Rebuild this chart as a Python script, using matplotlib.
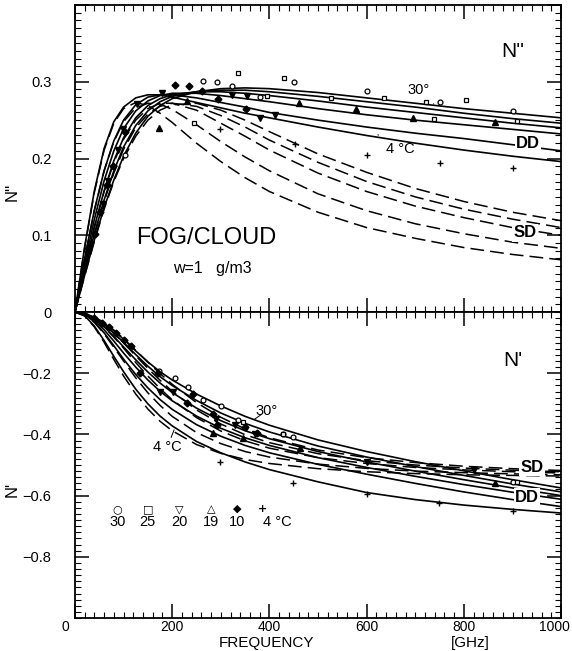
import matplotlib
matplotlib.use('Agg')
import matplotlib.pyplot as plt
import matplotlib.transforms as mtransforms
from matplotlib.ticker import MultipleLocator, FixedLocator, FuncFormatter

plt.rcParams['font.family'] = ['Liberation Sans', 'DejaVu Sans']

freq = [0, 20, 40, 60, 80, 100, 125, 150, 175, 200, 250, 300, 350, 400, 500, 600, 700, 800, 900, 1000]

# N'' double Debye (solid), temps 30, 25, 20, 15, 10, 4 C
dd_im_30 = [0, 0.048, 0.094, 0.136, 0.172, 0.203, 0.233, 0.255, 0.269, 0.278, 0.287, 0.291, 0.292, 0.291, 0.286, 0.279, 0.272, 0.265, 0.259, 0.253]
dd_im_25 = [0, 0.052, 0.102, 0.146, 0.184, 0.215, 0.243, 0.262, 0.274, 0.281, 0.287, 0.289, 0.289, 0.287, 0.281, 0.274, 0.267, 0.259, 0.252, 0.246]
dd_im_20 = [0, 0.057, 0.111, 0.158, 0.197, 0.227, 0.253, 0.269, 0.278, 0.283, 0.287, 0.287, 0.285, 0.282, 0.275, 0.267, 0.260, 0.253, 0.246, 0.240]
dd_im_15 = [0, 0.063, 0.121, 0.171, 0.210, 0.239, 0.262, 0.275, 0.282, 0.285, 0.285, 0.282, 0.278, 0.274, 0.265, 0.257, 0.250, 0.244, 0.238, 0.232]
dd_im_10 = [0, 0.070, 0.133, 0.184, 0.223, 0.250, 0.270, 0.280, 0.283, 0.283, 0.279, 0.273, 0.267, 0.260, 0.250, 0.241, 0.233, 0.226, 0.218, 0.210]
dd_im_4 = [0, 0.085, 0.158, 0.213, 0.248, 0.267, 0.279, 0.283, 0.283, 0.280, 0.273, 0.266, 0.259, 0.253, 0.241, 0.230, 0.220, 0.211, 0.203, 0.196]

# N'' single Debye (dashed), temps 30, 25, 20, 10, 4 C
sd_im_30 = [0, 0.047, 0.092, 0.134, 0.170, 0.200, 0.229, 0.250, 0.263, 0.270, 0.272, 0.263, 0.250, 0.235, 0.206, 0.182, 0.161, 0.144, 0.130, 0.119]
sd_im_25 = [0, 0.051, 0.100, 0.144, 0.181, 0.212, 0.240, 0.258, 0.268, 0.272, 0.268, 0.256, 0.241, 0.224, 0.195, 0.170, 0.150, 0.134, 0.121, 0.110]
sd_im_20 = [0, 0.057, 0.110, 0.157, 0.195, 0.225, 0.250, 0.265, 0.272, 0.272, 0.263, 0.246, 0.229, 0.211, 0.181, 0.157, 0.138, 0.123, 0.110, 0.100]
sd_im_10 = [0, 0.069, 0.132, 0.184, 0.222, 0.248, 0.266, 0.272, 0.271, 0.264, 0.244, 0.222, 0.202, 0.184, 0.154, 0.132, 0.115, 0.102, 0.091, 0.083]
sd_im_4 = [0, 0.084, 0.156, 0.211, 0.246, 0.265, 0.273, 0.269, 0.259, 0.247, 0.220, 0.196, 0.175, 0.157, 0.130, 0.110, 0.096, 0.084, 0.075, 0.068]

# N' double Debye (solid)
dd_re_30 = [0, -0.004, -0.017, -0.036, -0.061, -0.089, -0.127, -0.163, -0.195, -0.222, -0.268, -0.307, -0.341, -0.370, -0.418, -0.456, -0.489, -0.519, -0.548, -0.575]
dd_re_25 = [0, -0.005, -0.019, -0.041, -0.069, -0.099, -0.139, -0.177, -0.211, -0.240, -0.289, -0.330, -0.364, -0.392, -0.438, -0.474, -0.505, -0.534, -0.562, -0.588]
dd_re_20 = [0, -0.006, -0.022, -0.048, -0.080, -0.114, -0.156, -0.196, -0.232, -0.263, -0.314, -0.355, -0.388, -0.414, -0.456, -0.490, -0.520, -0.548, -0.575, -0.600]
dd_re_15 = [0, -0.007, -0.027, -0.058, -0.095, -0.134, -0.180, -0.222, -0.259, -0.290, -0.340, -0.380, -0.411, -0.436, -0.476, -0.508, -0.537, -0.564, -0.589, -0.612]
dd_re_10 = [0, -0.008, -0.032, -0.068, -0.110, -0.154, -0.204, -0.248, -0.286, -0.318, -0.368, -0.406, -0.436, -0.460, -0.498, -0.530, -0.560, -0.588, -0.613, -0.636]
dd_re_4 = [0, -0.012, -0.046, -0.093, -0.145, -0.195, -0.252, -0.300, -0.340, -0.372, -0.423, -0.460, -0.490, -0.515, -0.555, -0.590, -0.613, -0.631, -0.645, -0.657]

# N' single Debye (dashed)
sd_re_30 = [0, -0.004, -0.016, -0.035, -0.059, -0.087, -0.125, -0.164, -0.201, -0.236, -0.296, -0.344, -0.382, -0.411, -0.451, -0.476, -0.492, -0.504, -0.512, -0.518]
sd_re_25 = [0, -0.005, -0.019, -0.041, -0.069, -0.101, -0.143, -0.184, -0.223, -0.259, -0.320, -0.366, -0.401, -0.427, -0.463, -0.486, -0.500, -0.510, -0.517, -0.522]
sd_re_20 = [0, -0.006, -0.023, -0.049, -0.082, -0.118, -0.165, -0.209, -0.250, -0.287, -0.345, -0.389, -0.421, -0.445, -0.476, -0.495, -0.508, -0.516, -0.522, -0.526]
sd_re_10 = [0, -0.009, -0.034, -0.071, -0.115, -0.160, -0.215, -0.264, -0.305, -0.341, -0.394, -0.430, -0.456, -0.474, -0.497, -0.511, -0.520, -0.525, -0.529, -0.532]
sd_re_4 = [0, -0.013, -0.049, -0.099, -0.155, -0.209, -0.268, -0.317, -0.357, -0.388, -0.433, -0.462, -0.482, -0.495, -0.512, -0.522, -0.528, -0.532, -0.534, -0.536]

dd_im = [dd_im_30, dd_im_25, dd_im_20, dd_im_15, dd_im_10, dd_im_4]
sd_im = [sd_im_30, sd_im_25, sd_im_20, sd_im_10, sd_im_4]
dd_re = [dd_re_30, dd_re_25, dd_re_20, dd_re_15, dd_re_10, dd_re_4]
sd_re = [sd_re_30, sd_re_25, sd_re_20, sd_re_10, sd_re_4]

# measured points (freq, N'') per temperature
pts_im_30_f = [103, 264, 292, 323, 381, 451, 601, 751, 900]
pts_im_30_v = [0.204, 0.301, 0.300, 0.295, 0.280, 0.300, 0.288, 0.274, 0.262]
pts_im_25_f = [245, 336, 395, 430, 527, 636, 722, 739, 805, 910]
pts_im_25_v = [0.246, 0.311, 0.281, 0.305, 0.279, 0.279, 0.274, 0.251, 0.276, 0.249]
pts_im_20_f = [58, 68, 89, 99, 127, 179, 323, 353, 381, 412]
pts_im_20_v = [0.141, 0.171, 0.211, 0.239, 0.271, 0.286, 0.283, 0.281, 0.253, 0.257]
pts_im_19_f = [172, 230, 461, 578, 696, 864]
pts_im_19_v = [0.240, 0.275, 0.272, 0.265, 0.253, 0.247]
pts_im_10_f = [27, 41, 51, 66, 79, 103, 206, 235, 261, 294, 352]
pts_im_10_v = [0.083, 0.102, 0.130, 0.165, 0.190, 0.235, 0.296, 0.295, 0.288, 0.278, 0.265]
pts_im_4_f = [298, 453, 601, 751, 901]
pts_im_4_v = [0.239, 0.219, 0.204, 0.194, 0.187]

# measured points (freq, N')
pts_re_30_f = [173, 206, 233, 264, 300, 335, 428, 449, 901]
pts_re_30_v = [-0.192, -0.217, -0.246, -0.289, -0.308, -0.354, -0.400, -0.410, -0.555]
pts_re_25_f = [345, 428, 910]
pts_re_25_v = [-0.358, -0.398, -0.557]
pts_re_20_f = [175, 202, 290, 330, 370, 600, 820]
pts_re_20_v = [-0.260, -0.263, -0.350, -0.370, -0.400, -0.490, -0.517]
pts_re_19_f = [285, 346, 463, 864]
pts_re_19_v = [-0.395, -0.413, -0.446, -0.560]
pts_re_10_f = [40, 55, 70, 85, 100, 115, 134, 171, 230, 243, 285, 292, 350, 374]
pts_re_10_v = [-0.020, -0.035, -0.050, -0.070, -0.090, -0.110, -0.198, -0.198, -0.296, -0.267, -0.333, -0.370, -0.376, -0.397]
pts_re_4_f = [298, 449, 600, 749, 900]
pts_re_4_v = [-0.491, -0.559, -0.595, -0.625, -0.649]

legend_labels = ['30', '25', '20', '19', '10', '4 °C']
legend_glyphs = ['○', '□', '▽', '△', '◆', '+']
legend_f = [88, 150, 214, 280, 334, 386]

fig = plt.figure(figsize=(5.72, 6.51), dpi=100)
ax1 = fig.add_axes([0.131, 0.5207, 0.850, 0.4716])
ax2 = fig.add_axes([0.131, 0.0507, 0.850, 0.4700])

for c in dd_im:
    ax1.plot(freq, c, color='black', lw=1.2)
for c in sd_im:
    ax1.plot(freq, c, color='black', lw=1.1, dashes=(9, 4))
for c in dd_re:
    ax2.plot(freq, c, color='black', lw=1.2)
for c in sd_re:
    ax2.plot(freq, c, color='black', lw=1.1, dashes=(9, 4))

mk = dict(color='black', ls='none')
ax1.plot(pts_im_30_f, pts_im_30_v, marker='o', ms=3.5, mfc='white', mew=0.9, **mk)
ax1.plot(pts_im_25_f, pts_im_25_v, marker='s', ms=3.5, mfc='white', mew=0.9, **mk)
ax1.plot(pts_im_20_f, pts_im_20_v, marker='v', ms=4, **mk)
ax1.plot(pts_im_19_f, pts_im_19_v, marker='^', ms=4, **mk)
ax1.plot(pts_im_10_f, pts_im_10_v, marker='D', ms=3.5, **mk)
ax1.plot(pts_im_4_f, pts_im_4_v, marker='+', ms=5, mew=1, **mk)
ax2.plot(pts_re_30_f, pts_re_30_v, marker='o', ms=3.5, mfc='white', mew=0.9, **mk)
ax2.plot(pts_re_25_f, pts_re_25_v, marker='s', ms=3.5, mfc='white', mew=0.9, **mk)
ax2.plot(pts_re_20_f, pts_re_20_v, marker='v', ms=4, **mk)
ax2.plot(pts_re_19_f, pts_re_19_v, marker='^', ms=4, **mk)
ax2.plot(pts_re_10_f, pts_re_10_v, marker='D', ms=3.5, **mk)
ax2.plot(pts_re_4_f, pts_re_4_v, marker='+', ms=5, mew=1, **mk)

# axes styling
for ax in (ax1, ax2):
    ax.set_xlim(0, 1000)
    ax.xaxis.set_major_locator(FixedLocator([0, 200, 400, 600, 800, 1000]))
    ax.xaxis.set_minor_locator(MultipleLocator(20))
    ax.tick_params(which='both', direction='in', top=True, right=True, labelsize=10.5)
    ax.tick_params(which='major', length=10, width=1.1)
    ax.tick_params(which='minor', length=4, width=0.8)
    ax.tick_params(axis='y', pad=17)
    for s in ax.spines.values():
        s.set_linewidth(1.3)

ax1.set_ylim(0, 0.4)
ax1.yaxis.set_major_locator(FixedLocator([0, 0.1, 0.2, 0.3, 0.4]))
ax1.yaxis.set_minor_locator(MultipleLocator(0.01))
ax1.yaxis.set_major_formatter(FuncFormatter(lambda v, p: '0' if abs(v) < 1e-9 else ('' if v > 0.35 else '%.1f' % v)))
ax1.tick_params(labelbottom=False)

ax2.set_ylim(-1.0, 0)
ax2.yaxis.set_major_locator(FixedLocator([-0.2, -0.4, -0.6, -0.8]))
ax2.yaxis.set_minor_locator(MultipleLocator(0.02))
ax2.yaxis.set_major_formatter(FuncFormatter(lambda v, p: '\u2212%.1f' % abs(v)))
ax2.tick_params(axis='x', pad=1.5, labelsize=10)

# nudge the end labels like in the original
ticks = ax2.xaxis.get_major_ticks()
ticks[0].label1.set_transform(ticks[0].label1.get_transform() + mtransforms.ScaledTranslation(-7 / 72, 0, fig.dpi_scale_trans))
ticks[-1].label1.set_transform(ticks[-1].label1.get_transform() + mtransforms.ScaledTranslation(-5 / 72, 0, fig.dpi_scale_trans))

ax1.set_ylabel("N''", fontsize=12)
ax1.yaxis.set_label_coords(-0.113, 0.39)
ax2.set_ylabel("N'", fontsize=12)
ax2.yaxis.set_label_coords(-0.113, 0.42)

fig.text(267 / 572, 1 / 651, 'FREQUENCY', ha='center', va='bottom', fontsize=11)
fig.text(470 / 572, 1 / 651, '[GHz]', ha='center', va='bottom', fontsize=11)

# annotations, top panel
ax1.text(900, 0.34, "N''", fontsize=15, ha='center', va='center')
ax1.text(270, 0.096, 'FOG/CLOUD', fontsize=17, ha='center', va='center')
ax1.text(282, 0.057, 'w=1   g/m3', fontsize=11.5, ha='center', va='center')
ax1.annotate('30°', xy=(738, 0.271), xytext=(707, 0.289), fontsize=10.5, ha='center', va='center',
             arrowprops=dict(arrowstyle='-', lw=0.7, color='black', shrinkA=4, shrinkB=0))
ax1.annotate('4 °C', xy=(623, 0.231), xytext=(670, 0.213), fontsize=10.5, ha='center', va='center',
             arrowprops=dict(arrowstyle='-', lw=0.7, color='black', shrinkA=5, shrinkB=0))
bb = dict(fc='white', ec='none', pad=1)
ax1.text(932, 0.219, 'DD', fontsize=12, fontweight='bold', ha='center', va='center', bbox=bb)
ax1.text(925, 0.103, 'SD', fontsize=12, fontweight='bold', ha='center', va='center', bbox=bb)

# annotations, bottom panel
ax2.text(900, -0.159, "N'", fontsize=15, ha='center', va='center')
ax2.annotate('30°', xy=(368, -0.352), xytext=(395, -0.322), fontsize=10.5, ha='center', va='center',
             arrowprops=dict(arrowstyle='-', lw=0.7, color='black', shrinkA=5, shrinkB=0))
ax2.annotate('4 °C', xy=(204, -0.385), xytext=(190, -0.442), fontsize=10.5, ha='center', va='center',
             arrowprops=dict(arrowstyle='-', lw=0.7, color='black', shrinkA=6, shrinkB=0))
ax2.text(940, -0.507, 'SD', fontsize=12, fontweight='bold', ha='center', va='center', bbox=bb)
ax2.text(930, -0.605, 'DD', fontsize=12, fontweight='bold', ha='center', va='center', bbox=bb)

for g, lab, f in zip(legend_glyphs, legend_labels, legend_f):
    ax2.text(f, -0.644, g, fontsize=8, fontweight='bold', ha='center', va='center', family='DejaVu Sans')
    ax2.text(f, -0.686, lab, fontsize=10.5, ha='left' if lab.startswith('4') else 'center', va='center')

fig.savefig('out.png', dpi=100)
